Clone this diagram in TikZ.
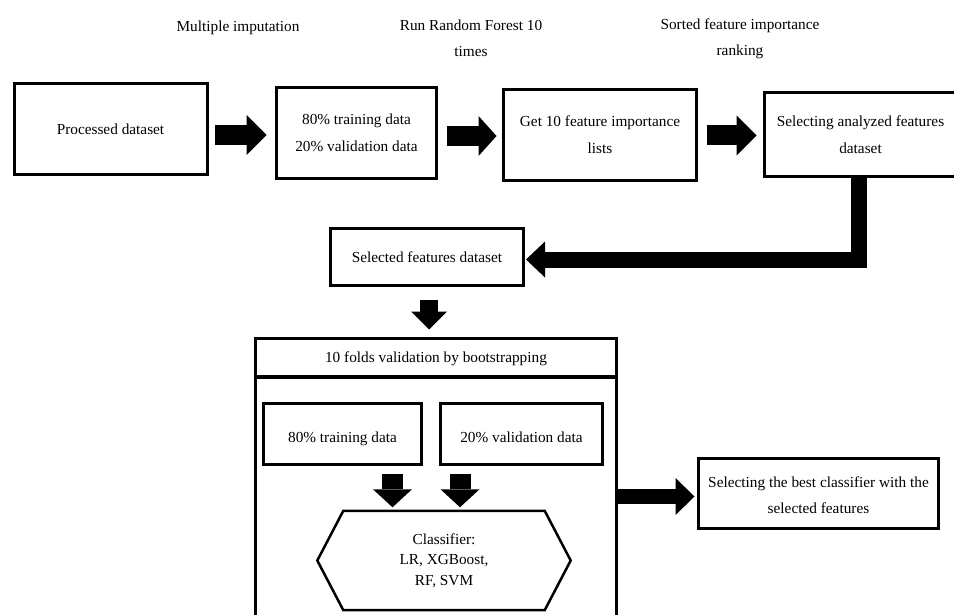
\documentclass[tikz,border=0pt]{standalone}
\usepackage{fontspec}
\setmainfont{Liberation Serif}
\usetikzlibrary{arrows.meta,calc}
\begin{document}
\begin{tikzpicture}[x=1pt,y=-1pt,
  txt/.style={font=\fontsize{15.3}{27}\selectfont},
  box/.style={draw, line width=3pt, align=center, inner sep=0pt, txt},
  lbl/.style={align=center, inner sep=0pt, font=\fontsize{15.3}{26}\selectfont},
  fatarrow/.style n args={3}{line width=#1, line cap=butt, line join=miter,
     -{Triangle[length=#2, width=#3, line width=0pt]}}]
\clip (0,0) rectangle (954,615);
\fill[white] (0,0) rectangle (954,615);

% top labels
\node[lbl] (t1) at (238,28) {Multiple imputation};
\node[lbl] (t2) at (471,38) {Run Random Forest 10\\times};
\node[lbl] (t3) at (740,39) {Sorted feature importance\\ranking};

% first row
\node[box, minimum width=193pt, minimum height=91pt, text depth=0pt] (b1) at (110.5,129) {Processed dataset};
\node[box, minimum width=160pt, minimum height=91pt] (b2) at (356.5,133) {80\% training data\\20\% validation data};
\node[box, minimum width=193pt, minimum height=91pt] (b3) at (600,135) {Get 10 feature importance\\lists};
\node[box, minimum width=192pt, minimum height=84pt] (b4) at (860.5,134.5) {Selecting analyzed features\\dataset};

% selected features
\node[box, minimum width=193pt, minimum height=57pt] (b5) at (427,257) {Selected features dataset};

% validation block
\node[box, minimum width=361pt, minimum height=273pt] (valbox) at (436,513.5) {};
\node[box, minimum width=361pt, minimum height=38pt, text depth=0pt] (fold) at (436,357.5) {10 folds validation by bootstrapping};
\node[box, minimum width=158pt, minimum height=61pt, text height=17pt, text depth=0pt] (inA) at (342.5,434) {80\% training data};
\node[box, minimum width=162pt, minimum height=61pt, text height=17pt, text depth=0pt] (inB) at (521.5,434) {20\% validation data};
\node[align=center, inner sep=0pt, minimum width=201pt, minimum height=99pt,
      font=\fontsize{15.3}{20.5}\selectfont] (clf) at (444,560.5) {Classifier:\\LR, XGBoost,\\RF, SVM};
\draw[line width=2.5pt, line join=miter] (clf.north west) -- (clf.north east) -- ($(clf.east)+(26,0)$)
  -- (clf.south east) -- (clf.south west) -- ($(clf.west)+(-26,0)$) -- cycle;

% result
\node[box, minimum width=240pt, minimum height=70pt] (b6) at (818.5,493.5) {\rule{0pt}{14pt}Selecting the best classifier with the\\[-1pt]selected features};

% block arrows
\draw[fatarrow={20pt}{20pt}{40pt}] ($(b1.east)+(6,6)$) -- ($(b2.west)+(-8.5,2)$);
\draw[fatarrow={20pt}{18pt}{40pt}] ($(b2.east)+(8.5,3)$) -- ($(b3.west)+(-5.5,1)$);
\draw[fatarrow={20pt}{20pt}{40pt}] ($(b3.east)+(8.5,0.5)$) -- ($(b4.west)+(-6.5,1)$);
\draw[fatarrow={16pt}{19pt}{36pt}] ($(b4.south)+(-2,0)$) |- ($(b5.east)+(1,2.5)$);
\draw[fatarrow={18pt}{18pt}{36pt}] ($(b5.south)+(2,12.5)$) -- ($(fold.north)+(-7,-7.5)$);
\draw[fatarrow={21pt}{18pt}{39pt}] ($(inA.south)+(50,7.5)$) -- ($(clf.north)+(-51.5,-3.5)$);
\draw[fatarrow={21pt}{18pt}{39pt}] ($(inB.south)+(-61.5,7.5)$) -- ($(clf.north)+(16,-3.5)$);
\draw[fatarrow={15pt}{19pt}{37pt}] ($(valbox.east)+(0,-17)$) -- ($(b6.west)+(-2.5,3)$);
\end{tikzpicture}
\end{document}
